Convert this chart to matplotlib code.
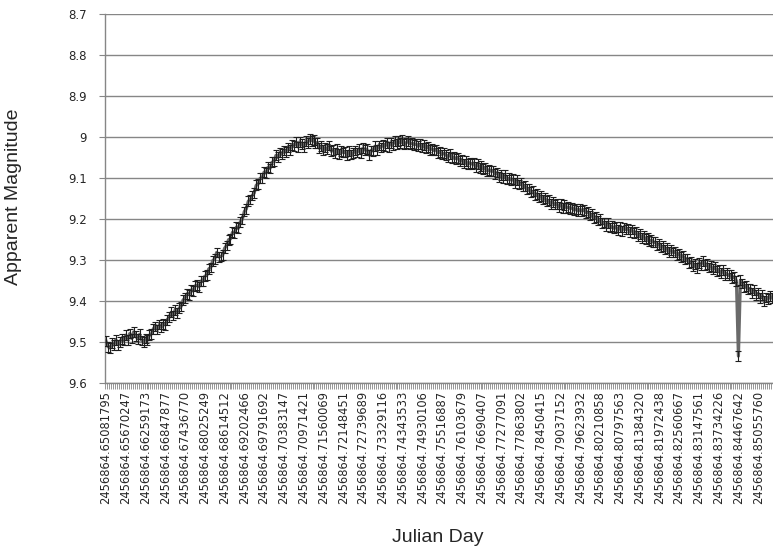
import numpy as np
import matplotlib
matplotlib.use("Agg")
import matplotlib.pyplot as plt

mag = [
    9.498, 9.512, 9.515, 9.504, 9.508, 9.495, 9.507, 9.500, 9.493, 9.497,
    9.484, 9.495, 9.480, 9.492, 9.476, 9.485, 9.493, 9.482, 9.497, 9.501,
    9.492, 9.496, 9.484, 9.481, 9.468, 9.463, 9.470, 9.458, 9.465, 9.456,
    9.459, 9.446, 9.440, 9.428, 9.436, 9.422, 9.430, 9.418, 9.414, 9.398,
    9.394, 9.383, 9.385, 9.374, 9.376, 9.364, 9.362, 9.366, 9.352, 9.352,
    9.340, 9.338, 9.322, 9.319, 9.302, 9.298, 9.282, 9.293, 9.292, 9.289,
    9.272, 9.265, 9.251, 9.249, 9.233, 9.234, 9.220, 9.223, 9.207, 9.201,
    9.182, 9.176, 9.157, 9.153, 9.143, 9.137, 9.118, 9.115, 9.101, 9.100,
    9.086, 9.088, 9.074, 9.077, 9.062, 9.060, 9.045, 9.050, 9.038, 9.041,
    9.033, 9.037, 9.026, 9.031, 9.019, 9.022, 9.013, 9.024, 9.012, 9.017,
    9.024, 9.011, 9.014, 9.005, 9.009, 9.008, 9.015, 9.014, 9.028, 9.022,
    9.032, 9.026, 9.030, 9.021, 9.035, 9.032, 9.040, 9.030, 9.042, 9.034,
    9.038, 9.036, 9.045, 9.035, 9.043, 9.040, 9.033, 9.038, 9.029, 9.040,
    9.027, 9.032, 9.030, 9.044, 9.033, 9.034, 9.023, 9.031, 9.021, 9.026,
    9.020, 9.023, 9.015, 9.024, 9.014, 9.019, 9.010, 9.018, 9.011, 9.015,
    9.008, 9.017, 9.014, 9.010, 9.017, 9.015, 9.019, 9.017, 9.023, 9.018,
    9.026, 9.019, 9.028, 9.024, 9.031, 9.029, 9.033, 9.031, 9.039, 9.036,
    9.043, 9.040, 9.044, 9.049, 9.041, 9.051, 9.049, 9.053, 9.051, 9.059,
    9.055, 9.065, 9.058, 9.067, 9.063, 9.066, 9.064, 9.073, 9.066, 9.075,
    9.071, 9.079, 9.075, 9.083, 9.080, 9.084, 9.083, 9.091, 9.087, 9.097,
    9.092, 9.101, 9.094, 9.104, 9.101, 9.105, 9.103, 9.113, 9.106, 9.116,
    9.112, 9.121, 9.119, 9.128, 9.126, 9.135, 9.133, 9.142, 9.139, 9.148,
    9.144, 9.153, 9.149, 9.157, 9.155, 9.163, 9.159, 9.165, 9.163, 9.171,
    9.163, 9.174, 9.166, 9.173, 9.171, 9.175, 9.173, 9.179, 9.175, 9.181,
    9.177, 9.181, 9.178, 9.185, 9.183, 9.192, 9.189, 9.198, 9.195, 9.204,
    9.201, 9.211, 9.209, 9.218, 9.210, 9.221, 9.218, 9.223, 9.220, 9.228,
    9.219, 9.229, 9.221, 9.226, 9.224, 9.232, 9.226, 9.235, 9.232, 9.241,
    9.237, 9.246, 9.242, 9.250, 9.247, 9.255, 9.252, 9.257, 9.257, 9.265,
    9.261, 9.270, 9.267, 9.275, 9.272, 9.280, 9.277, 9.282, 9.281, 9.289,
    9.286, 9.294, 9.291, 9.299, 9.297, 9.307, 9.305, 9.315, 9.311, 9.320,
    9.307, 9.312, 9.303, 9.312, 9.310, 9.319, 9.315, 9.323, 9.318, 9.327,
    9.325, 9.333, 9.324, 9.337, 9.333, 9.338, 9.338, 9.344, 9.341, 9.352,
    9.535, 9.350, 9.358, 9.366, 9.363, 9.372, 9.370, 9.381, 9.374, 9.385,
    9.382, 9.393, 9.386, 9.401, 9.392, 9.396, 9.388, 9.393,
]
mag_err = 0.012

# every 10th Julian Day is labelled on the category axis
label_step = 10
jd_labels = [
    "2456864.65081795", "2456864.65670247", "2456864.66259173", "2456864.66847877",
    "2456864.67436770", "2456864.68025249", "2456864.68614512", "2456864.69202466",
    "2456864.69791692", "2456864.70383147", "2456864.70971421", "2456864.71560069",
    "2456864.72148451", "2456864.72739689", "2456864.73329116", "2456864.74343533",
    "2456864.74930106", "2456864.75516887", "2456864.76103679", "2456864.76690407",
    "2456864.77277091", "2456864.77863802", "2456864.78450415", "2456864.79037152",
    "2456864.79623932", "2456864.80210858", "2456864.80797563", "2456864.81384320",
    "2456864.81972438", "2456864.82560667", "2456864.83147561", "2456864.83734226",
    "2456864.84467642", "2456864.85055760",
]
y_ticks = [8.7, 8.8, 8.9, 9.0, 9.1, 9.2, 9.3, 9.4, 9.5, 9.6]

n = len(mag)
x = np.arange(n)
grey = "#868686"
txt = "#262626"

fig = plt.figure(figsize=(7.73, 5.53), dpi=100)
ax = fig.add_axes([105 / 773, 1 - 382.7 / 553, 668 / 773, 368.7 / 553])

ax.plot(x, mag, color="#6a6a6a", lw=2.3, zorder=3)
ax.errorbar(x, mag, yerr=mag_err, fmt="none", ecolor="#1e1e1e",
            elinewidth=0.8, capsize=2.5, capthick=0.8, zorder=4)

ax.set_xlim(-0.5, n - 0.5)
ax.set_ylim(9.6, 8.7)

ax.set_yticks(y_ticks)
ax.set_yticklabels([f"{v:g}" for v in y_ticks])
ax.yaxis.grid(True, color=grey, lw=1.0)
ax.set_axisbelow(True)

ax.set_xticks(x[::label_step][:len(jd_labels)])
ax.set_xticklabels(jd_labels, rotation=90, ha="center", va="top")
ax.set_xticks(np.arange(n + 1) - 0.5, minor=True)

ax.tick_params(axis="x", which="major", length=0, pad=6, labelsize=8.3, labelcolor=txt)
ax.tick_params(axis="x", which="minor", length=4, width=0.6, color=grey)
ax.tick_params(axis="y", length=4, width=0.8, color=grey, pad=9, labelsize=8.5, labelcolor=txt)

for s in ["top", "right"]:
    ax.spines[s].set_visible(False)
for s in ["left", "bottom"]:
    ax.spines[s].set_color(grey)
    ax.spines[s].set_linewidth(1.0)

fig.text(14 / 773, 1 - 197 / 553, "Apparent Magnitude", rotation=90,
         ha="center", va="center", fontsize=14, family="Liberation Sans", color=txt)
fig.text(438 / 773, 1 - 537 / 553, "Julian Day", ha="center", va="center",
         fontsize=14, family="Liberation Sans", color=txt)

fig.savefig("out.png", dpi=100)
